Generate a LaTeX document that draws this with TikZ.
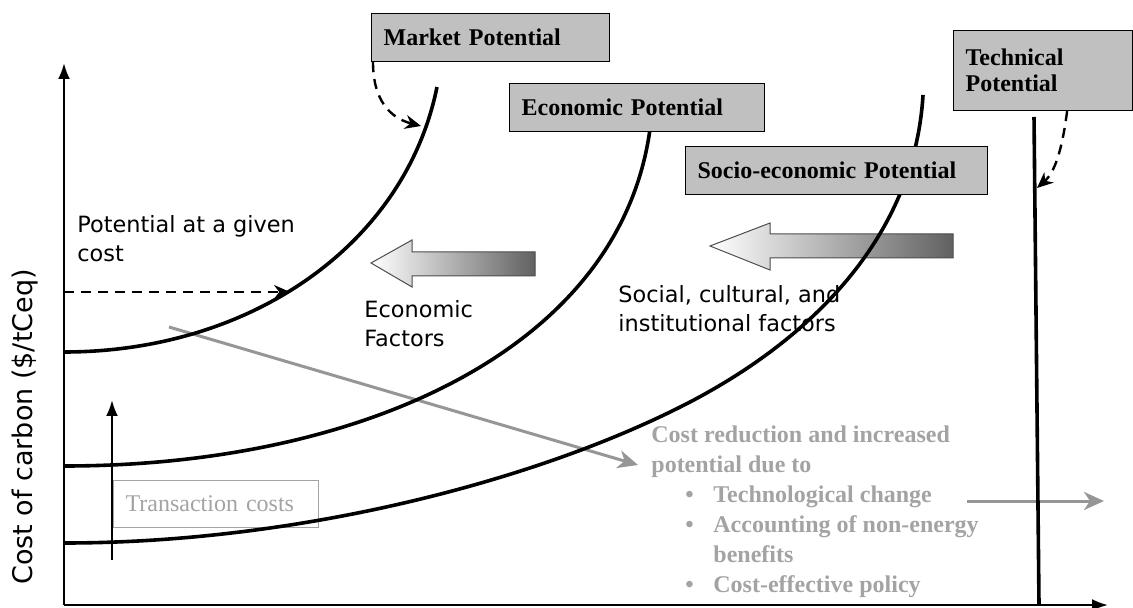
\documentclass[tikz,border=0pt]{standalone}
\usepackage{fontspec}
\setmainfont{Liberation Serif}
\newfontfamily\tahoma{DejaVu Sans}
\usepackage{xcolor}
\usepackage{tikz}
\usetikzlibrary{arrows.meta,positioning}
\definecolor{boxgray}{RGB}{192,192,192}
\definecolor{txtgray}{RGB}{163,163,163}
\definecolor{lngray}{RGB}{150,150,150}
\newcommand\blt{\hspace*{17pt}\makebox[14pt][l]{\textbullet}}
\newcommand\ind{\hspace*{31pt}}

\begin{document}
\begin{tikzpicture}[x=0.5pt,y=-0.5pt,
    potbox/.style={draw=black,fill=boxgray,line width=0.6pt,anchor=north west,
        inner xsep=6pt,inner ysep=0pt,align=left,
        font=\fontsize{12}{13}\selectfont\bfseries},
    curve/.style={line width=1.8pt},
    axis/.style={line width=1.2pt,-{Latex[length=8pt,width=6pt]}},
    dasharr/.style={dash pattern=on 5pt off 3.5pt,line width=1.2pt,
        -{Stealth[length=8pt,width=7pt]}},
    grayarr/.style={draw=lngray,line width=1.5pt,
        -{Stealth[length=10pt,width=9pt,inset=3pt]}},
    blockarr/.style={draw=black!70,line width=0.5pt,left color=white,right color=black!62},
    lbl/.style={anchor=base west,align=left,inner sep=0pt,
        font=\tahoma\fontsize{11.2}{14.8}\selectfont}]
    \useasboundingbox (0,0) rectangle (1133,608);
    \coordinate (orig) at (64,605);
    \coordinate (ytop) at (64,63);
    \coordinate (xend) at (1108,605);
    \coordinate (mtip) at (421,126);
    \coordinate (ttip) at (1037,188);
    \coordinate (cost) at (64,292);
    \coordinate (ctip) at (290,292);
    \coordinate (gs) at (169,327);
    \coordinate (crtip) at (638,465);
    \coordinate (tcs) at (112,560);
    \coordinate (tce) at (112,400);
    \coordinate (tchs) at (967,501);
    \coordinate (tche) at (1104,501);

    \node[draw=txtgray,line width=0.6pt,anchor=north west,minimum width=102.5pt,
        minimum height=23.5pt,inner xsep=6pt,text width=90.5pt,align=left,
        text=txtgray,font=\fontsize{12}{13}\selectfont] (tc) at (113,480) {Transaction costs};

    \shade[blockarr] (371,263) -- (412,240) -- (412,252) -- (535,252) -- (535,276)
        -- (412,276) -- (412,287) -- cycle;
    \shade[blockarr] (710,246) -- (770,223) -- (770,234) -- (953,234) -- (953,258)
        -- (770,258) -- (770,270) -- cycle;

    \draw[grayarr] (gs) -- (crtip);
    \draw[grayarr] (tchs) -- (tche);

    \draw[curve] (64,352) .. controls (250,352) and (405,245) .. (437,87);
    \draw[curve] (64,466) .. controls (360,466) and (620,350) .. (650,129);
    \draw[curve] (64,543) .. controls (300,543) and (540,480) .. (690,402)
        .. controls (820,334) and (915,230) .. (923,95);
    \draw[curve] (1034,117) -- (1039,605);

    \draw[axis] (orig) -- (ytop);
    \draw[axis] (orig) -- (xend);
    \draw[axis] (tcs) -- (tce);
    \draw[dasharr] (cost) -- (ctip);

    \node[potbox,minimum width=119pt,minimum height=24pt,text width=107pt] (mp) at (371,13) {Market Potential};
    \node[potbox,minimum width=127.5pt,minimum height=24pt,text width=115.5pt] (ep) at (509,83) {Economic Potential};
    \node[potbox,minimum width=151pt,minimum height=24pt,text width=139pt] (sp) at (685,146) {Socio-economic Potential};
    \node[potbox,minimum width=89.5pt,minimum height=40pt,text width=77.5pt] (tp) at (953,30) {Technical\\Potential};

    \draw[dasharr] ([xshift=1pt]mp.south west) .. controls (373,100) and (390,118) .. (mtip);
    \draw[dasharr] ([xshift=12pt]tp.south) .. controls (1062,150) and (1055,172) .. (ttip);

    \node[lbl] (pc) at (77,262) {Potential at a given\\cost};
    \node[lbl] (ef) at (364,347) {Economic\\Factors};
    \node[lbl] (sf) at (618,332) {Social, cultural, and\\institutional factors};
    \node[rotate=90,font=\tahoma\fontsize{13.5}{16}\selectfont] (ylab) at (25,427) {Cost of carbon (\$/tCeq)};

    \node[anchor=base west,align=left,inner sep=0pt,text=txtgray,
        font=\fontsize{12}{15}\selectfont\bfseries] (cr) at (651,592)
        {Cost reduction and increased\\potential due to\\
        \blt Technological change\\\blt Accounting of non-energy\\
        \ind benefits\\\blt Cost-effective policy};
\end{tikzpicture}
\end{document}
